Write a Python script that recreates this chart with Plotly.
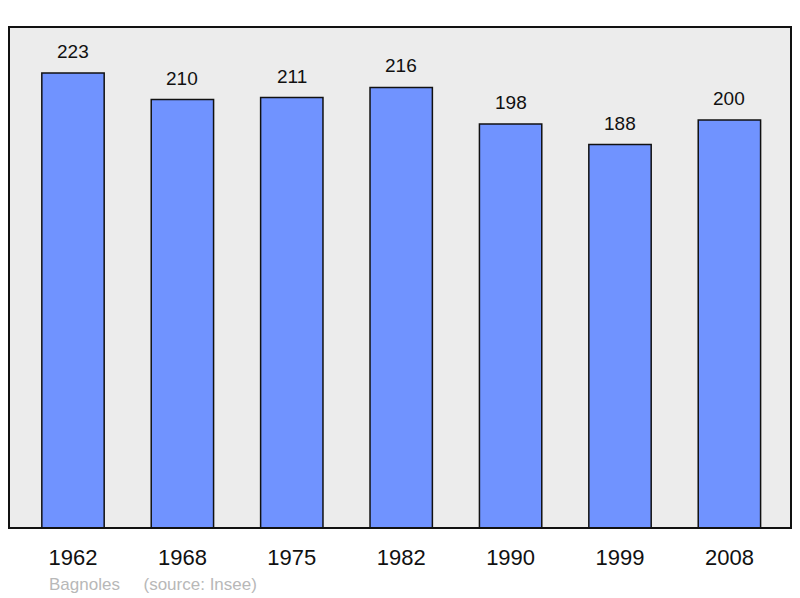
import plotly.graph_objects as go

years = ['1962', '1968', '1975', '1982', '1990', '1999', '2008']
population = [223, 210, 211, 216, 198, 188, 200]
source_label = 'Bagnoles     (source: Insee)'

fig = go.Figure()
fig.add_trace(
    go.Bar(
        x=years,
        y=population,
        width=0.57,
        marker_color='#7093ff',
        marker_line_color='#111111',
        marker_line_width=1.5,
        hoverinfo='x+y',
    )
)

# value labels; category axis annotations take the category index
for i, val in enumerate(population):
    fig.add_annotation(
        x=i, y=val, text=str(val), showarrow=False,
        yanchor='bottom', yshift=9,
        font=dict(size=19, color='#111111'),
    )

# framed grey plot area
fig.add_shape(
    type='rect', xref='paper', yref='paper',
    x0=0, y0=0, x1=1, y1=1,
    fillcolor='#ececec', line=dict(color='#111111', width=2),
    layer='below',
)
fig.add_shape(
    type='rect', xref='paper', yref='paper',
    x0=0, y0=0, x1=1, y1=1,
    fillcolor='rgba(0,0,0,0)', line=dict(color='#111111', width=2),
    layer='above',
)

fig.add_annotation(
    x=38 / 782, y=-56 / 501, xref='paper', yref='paper', text=source_label,
    showarrow=False, xanchor='left', yanchor='middle',
    font=dict(size=17, color='#b8b8b8'),
)

# page body has an 8px margin, so the figure is offset by it
fig.update_layout(
    width=784,
    height=590,
    margin=dict(l=1, r=1, t=19, b=70),
    paper_bgcolor='white',
    plot_bgcolor='rgba(0,0,0,0)',
    font=dict(family='Liberation Sans, Arial, sans-serif', color='#111111'),
    showlegend=False,
    xaxis=dict(
        type='category',
        range=[-0.585, 6.563],
        showgrid=False, zeroline=False, showline=False,
        ticks='', tickfont=dict(size=22),
        ticklabelstandoff=14,
    ),
    yaxis=dict(
        range=[0, 245.6],
        showgrid=False, zeroline=False, showline=False,
        showticklabels=False, ticks='',
    ),
)

fig.write_html('out.html')
